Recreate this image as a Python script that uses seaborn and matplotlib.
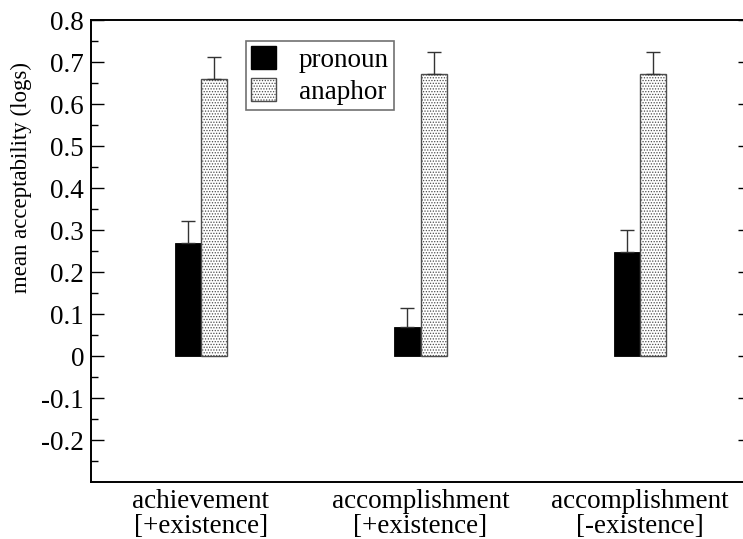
import numpy as np
import pandas as pd
import matplotlib
matplotlib.use("Agg")
import matplotlib.pyplot as plt
import seaborn as sns

# -------------------------------
# Data
# -------------------------------
conditions = ["achievement\n[+existence]",
              "accomplishment\n[+existence]",
              "accomplishment\n[-existence]"]
groups = ["pronoun", "anaphor"]
pronoun_mean = [0.268, 0.069, 0.248]
pronoun_err = [0.053, 0.046, 0.052]
anaphor_mean = [0.660, 0.672, 0.672]
anaphor_err = [0.053, 0.052, 0.052]
ytick_vals = [-0.2, -0.1, 0.0, 0.1, 0.2, 0.3, 0.4, 0.5, 0.6, 0.7, 0.8]
ytick_text = ["-0.2", "-0.1", "0", "0.1", "0.2", "0.3", "0.4", "0.5", "0.6", "0.7", "0.8"]

df = pd.DataFrame({
    "condition": conditions * 2,
    "group": [groups[0]] * 3 + [groups[1]] * 3,
    "value": pronoun_mean + anaphor_mean,
})

sns.set_style("ticks")
plt.rcParams["font.family"] = ["Liberation Serif", "DejaVu Serif"]
plt.rcParams["text.color"] = "black"
plt.rcParams["axes.labelcolor"] = "black"
plt.rcParams["xtick.color"] = "black"
plt.rcParams["ytick.color"] = "black"
plt.rcParams["axes.edgecolor"] = "black"
plt.rcParams["hatch.linewidth"] = 0.6

fig = plt.figure(figsize=(7.43, 5.39), dpi=100)
ax = fig.add_axes([91 / 743, 1 - 482 / 539, 659 / 743, 462 / 539])

sns.barplot(
    data=df, x="condition", y="value", hue="group",
    order=conditions, hue_order=groups,
    palette={"pronoun": "black", "anaphor": "white"},
    width=0.237, gap=0, errorbar=None, saturation=1,
    legend=True, ax=ax,
)

# style bars: solid black / stippled
for bar in ax.containers[0]:
    bar.set_edgecolor("black")
    bar.set_linewidth(0.6)
for bar in ax.containers[1]:
    bar.set_facecolor("white")
    bar.set_edgecolor("0.3")
    bar.set_hatch("......")
    bar.set_linewidth(1.0)

# one-sided error bars
for cont, means, errs in zip(ax.containers, [pronoun_mean, anaphor_mean],
                             [pronoun_err, anaphor_err]):
    xs = [b.get_x() + b.get_width() / 2 for b in cont]
    ax.errorbar(xs, means, yerr=[np.zeros(len(errs)), errs], fmt="none",
                ecolor="0.2", elinewidth=1.0, capsize=5, capthick=1.0, zorder=1)

ax.set_xlim(-0.5, 2.5)
ax.set_ylim(-0.3, 0.8)
ax.set_yticks(ytick_vals)
ax.set_yticklabels(ytick_text)
ax.set_yticks(np.arange(-0.25, 0.8, 0.1), minor=True)
ax.tick_params(axis="y", which="major", direction="in", length=9, width=1,
               left=True, right=True, labelsize=19.5, pad=5)
ax.tick_params(axis="y", which="minor", direction="in", length=5, width=1,
               left=True, right=True)
ax.tick_params(axis="x", length=0, labelsize=19.5, pad=5)
for s in ax.spines.values():
    s.set_visible(True)
    s.set_linewidth(1.4)
ax.set_xlabel("")
ax.set_ylabel("mean acceptability (logs)", fontsize=16.5)
ax.yaxis.set_label_coords(-0.089, 0.66)
for lab in ax.get_xticklabels():
    lab.set_linespacing(1.0)

leg = ax.legend(loc="upper left", bbox_to_anchor=(155 / 659, (482 - 41) / 462),
                fontsize=19.5, frameon=True, fancybox=False, edgecolor="0.3",
                handlelength=0.9, handleheight=0.9, handletextpad=0.85,
                labelspacing=0.2, borderpad=0.2, borderaxespad=0.0)
leg.get_frame().set_linewidth(1.2)
for h in leg.legend_handles:
    h.set_edgecolor("0.3")
leg.legend_handles[0].set_edgecolor("black")
leg.legend_handles[1].set_hatch("......")

fig.savefig("out.png", dpi=100)
